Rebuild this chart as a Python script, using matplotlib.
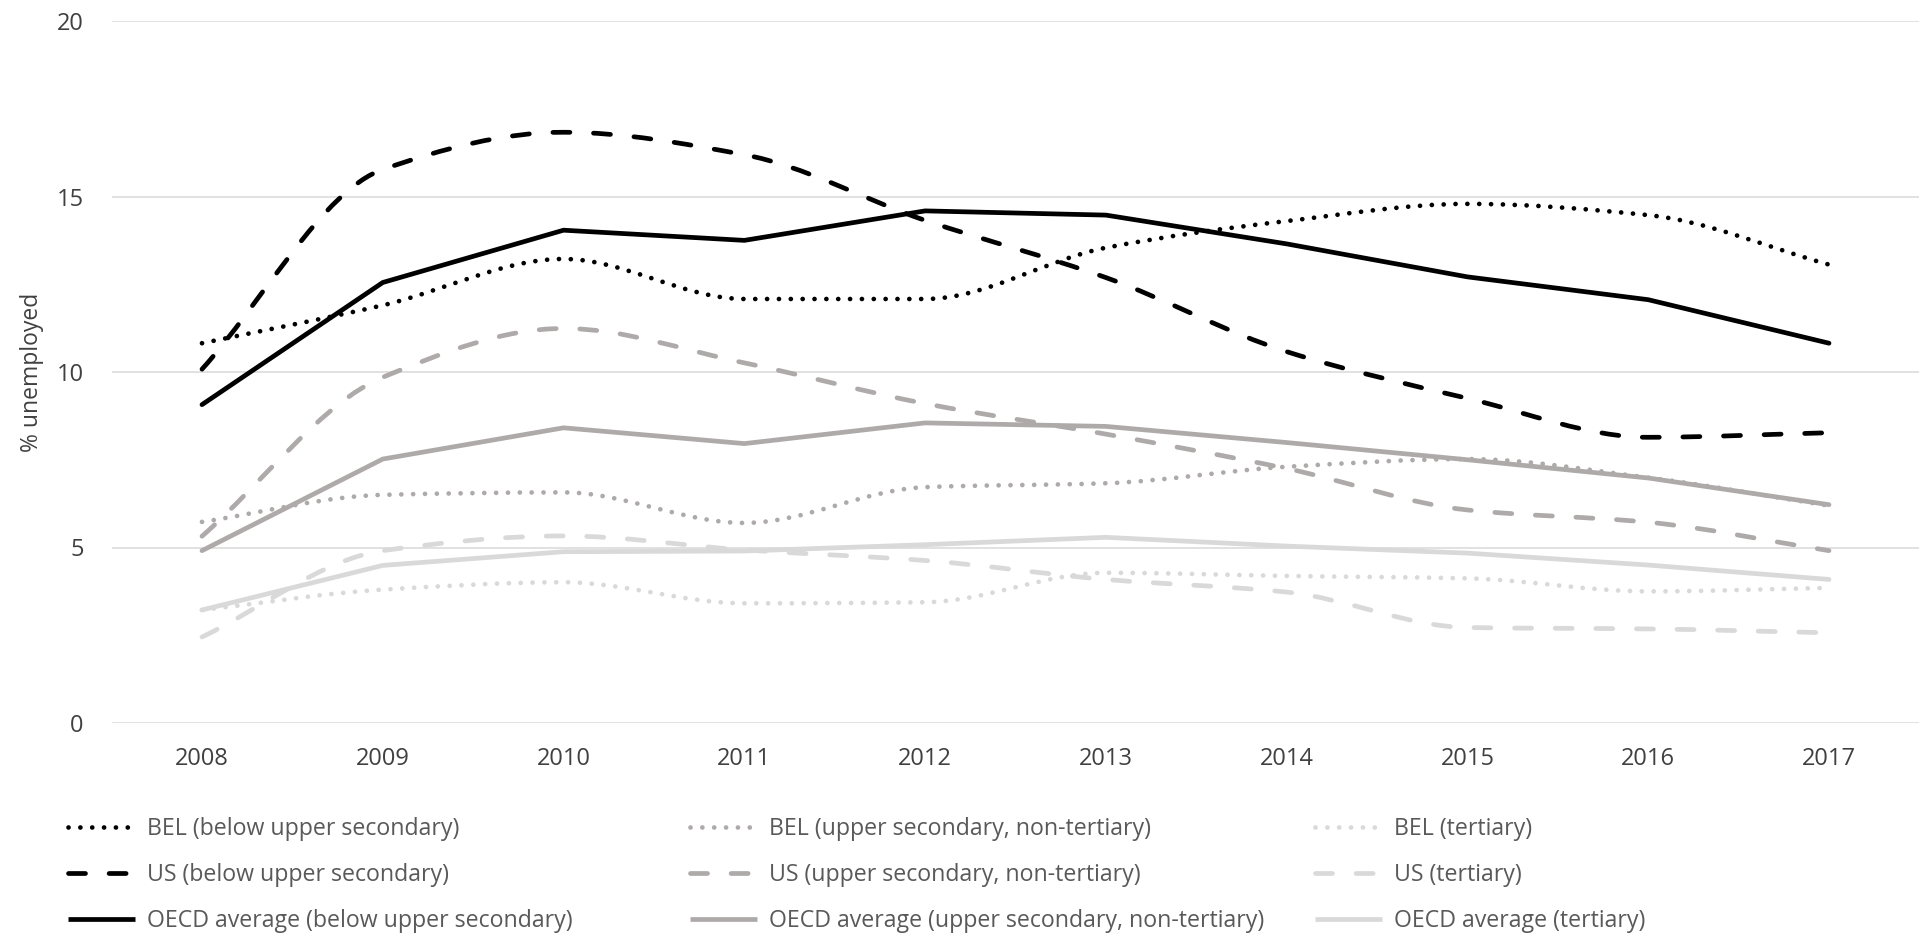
import numpy as np
import matplotlib
matplotlib.use("Agg")
import matplotlib.pyplot as plt
from matplotlib.path import Path
from matplotlib.patches import PathPatch
from matplotlib.lines import Line2D

# ---------------- data ----------------
years = [2008, 2009, 2010, 2011, 2012, 2013, 2014, 2015, 2016, 2017]

bel_below = [10.82, 11.90, 13.22, 12.08, 12.08, 13.54, 14.30, 14.79, 14.47, 13.06]
bel_upper = [5.73, 6.50, 6.57, 5.70, 6.72, 6.83, 7.30, 7.52, 6.99, 6.19]
bel_tert = [3.22, 3.80, 4.01, 3.41, 3.44, 4.28, 4.19, 4.12, 3.75, 3.85]

us_below = [10.08, 15.77, 16.83, 16.19, 14.32, 12.69, 10.58, 9.25, 8.14, 8.27]
us_upper = [5.32, 9.85, 11.24, 10.26, 9.10, 8.23, 7.25, 6.07, 5.72, 4.91]
us_tert = [2.45, 4.91, 5.33, 4.93, 4.63, 4.09, 3.73, 2.72, 2.68, 2.57]

oecd_below = [9.07, 12.55, 14.04, 13.75, 14.59, 14.47, 13.65, 12.71, 12.06, 10.82]
oecd_upper = [4.91, 7.52, 8.41, 7.96, 8.55, 8.45, 7.99, 7.50, 6.98, 6.22]
oecd_tert = [3.22, 4.49, 4.88, 4.90, 5.08, 5.29, 5.04, 4.84, 4.50, 4.09]

labels = [
    "BEL (below upper secondary)", "BEL (upper secondary, non-tertiary)", "BEL (tertiary)",
    "US (below upper secondary)", "US (upper secondary, non-tertiary)", "US (tertiary)",
    "OECD average (below upper secondary)", "OECD average (upper secondary, non-tertiary)",
    "OECD average (tertiary)",
]
y_ticks = [0, 5, 10, 15, 20]
y_label = "% unemployed"

# ---------------- style ----------------
FONT = ["Open Sans", "DejaVu Sans"]
plt.rcParams["font.family"] = FONT
BLACK, MID, LIGHT = "#000000", "#aeaaaa", "#d9d9d9"
LW = 3.4
DOT = (0, (0.01, 2.5))
DASH = (0, (3.6, 5.0))
SOLID = "-"

series = [
    (bel_below, BLACK, DOT, True), (bel_upper, MID, DOT, True), (bel_tert, LIGHT, DOT, True),
    (us_below, BLACK, DASH, True), (us_upper, MID, DASH, True), (us_tert, LIGHT, DASH, True),
    (oecd_below, BLACK, SOLID, False), (oecd_upper, MID, SOLID, False), (oecd_tert, LIGHT, SOLID, False),
]


def monotone_path(x, y):
    """Smoothed (monotone cubic) rendering of a series as a Bezier path."""
    x = np.asarray(x, float)
    y = np.asarray(y, float)
    n = len(x)
    h = np.diff(x)
    d = np.diff(y) / h
    m = np.zeros(n)
    for k in range(1, n - 1):
        if d[k - 1] * d[k] > 0:
            w1 = 2 * h[k] + h[k - 1]
            w2 = h[k] + 2 * h[k - 1]
            m[k] = (w1 + w2) / (w1 / d[k - 1] + w2 / d[k])
    m[0] = d[0]
    m[-1] = d[-1]
    verts = [(x[0], y[0])]
    codes = [Path.MOVETO]
    for k in range(n - 1):
        verts += [(x[k] + h[k] / 3, y[k] + m[k] * h[k] / 3),
                  (x[k + 1] - h[k] / 3, y[k + 1] - m[k + 1] * h[k] / 3),
                  (x[k + 1], y[k + 1])]
        codes += [Path.CURVE4] * 3
    return Path(verts, codes)


W, H = 1921, 936
fig = plt.figure(figsize=(W / 100, H / 100), dpi=100)
ax = fig.add_axes([111.6 / W, 1 - 723 / H, (1919.4 - 111.6) / W, (723 - 21) / H])

for vals, col, ls, smooth in series:
    if smooth:
        patch = PathPatch(monotone_path(years, vals), fill=False, edgecolor=col,
                          lw=LW, linestyle=ls, capstyle="round", joinstyle="round")
        ax.add_patch(patch)
    else:
        ax.plot(years, vals, color=col, lw=LW, linestyle=ls,
                solid_capstyle="round", solid_joinstyle="round")

ax.set_xlim(2007.5, 2017.5)
ax.set_ylim(0, 20)
ax.set_yticks(y_ticks)
ax.set_xticks(years)
ax.set_xticklabels([str(y) for y in years])
for s in ax.spines.values():
    s.set_visible(False)
ax.grid(axis="y", color="#d9d9d9", lw=1.1)
ax.set_axisbelow(True)
ax.tick_params(length=0, labelsize=17, colors="#404040")
ax.tick_params(axis="y", pad=20)
ax.tick_params(axis="x", pad=17)
ax.set_ylabel(y_label, fontsize=16.5, color="#404040", labelpad=9)

# ---------------- legend (three equal-width columns) ----------------
col_x = [68, 690, 1315]
for c in range(3):
    handles, labs = [], []
    for r in range(3):
        k = r * 3 + c
        vals, col, ls, smooth = series[k]
        h = Line2D([], [], color=col, lw=LW, linestyle=ls,
                   dash_capstyle="round", solid_capstyle="butt")
        handles.append(h)
        labs.append(labels[k])
    leg = fig.legend(handles, labs, loc="center left",
                     bbox_to_anchor=(col_x[c] / W, 1 - 875 / H),
                     frameon=False, fontsize=16.7, handlelength=2.9,
                     handletextpad=0.5, labelspacing=0.94,
                     borderpad=0, borderaxespad=0)
    for t in leg.get_texts():
        t.set_color("#595959")

fig.savefig("out.png", dpi=100)
